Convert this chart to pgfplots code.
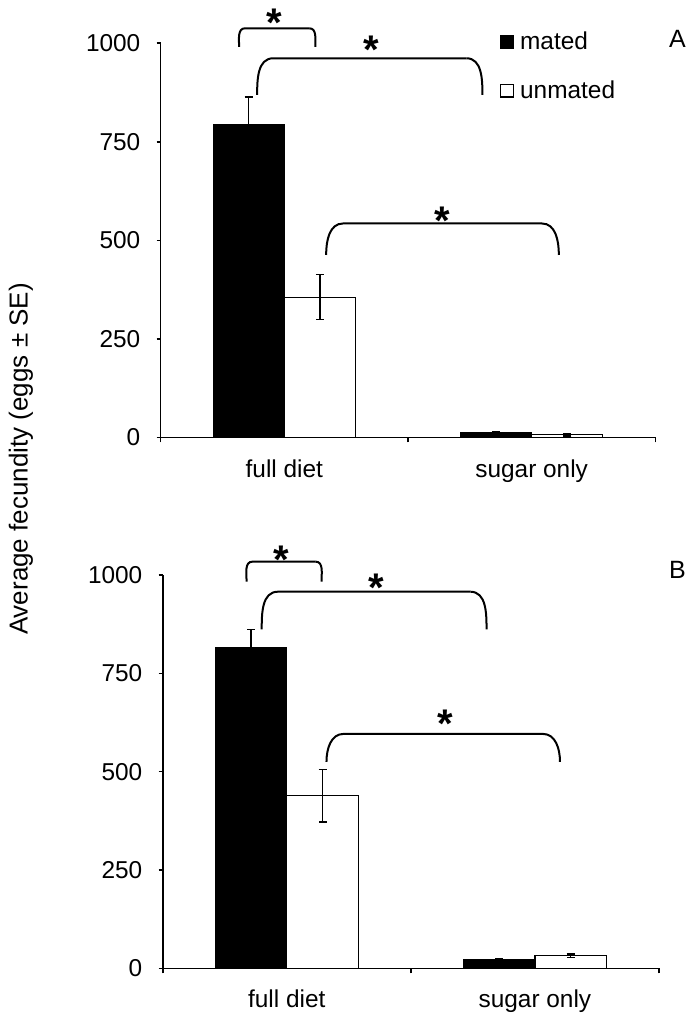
\documentclass[border=0pt]{standalone}
\usepackage{fontspec}
\setmainfont{Liberation Sans}
\usepackage{pgfplots}
\pgfplotsset{compat=1.18}

\newcommand{\brk}[5]{%
  \draw[line width=1pt] (axis cs:#1,#4) to[out=90,in=180] (axis cs:#5,#3) -- (axis cs:#2,#3);}
\newcommand{\brkr}[4]{%
  \draw[line width=1pt] (axis cs:#1,#3) to[out=0,in=90] (axis cs:#2,#4);}
\newcommand{\sigstar}[2]{\node[anchor=north,inner sep=0pt,font=\fontsize{20}{24}\selectfont\bfseries] at (axis cs:#1,#2) {*};}

\pgfplotsset{panel/.style={
  scale only axis,
  xmin=0.5, xmax=2.5, ymin=0, ymax=1000,
  axis x line*=bottom, axis y line*=left,
  axis line style={line width=0.8pt,-},
  xtick={1,2}, xticklabels={full diet, sugar only},
  major x tick style={draw=none},
  minor xtick={0.5,1.5,2.5},
  ytick={0,250,500,750,1000},
  tick align=outside, major tick length=2pt, minor tick length=2.5pt,
  tick style={black, line width=0.8pt},
  ticklabel style={font=\fontsize{12.2}{14}\selectfont},
  /pgf/number format/assume math mode=true,
  /pgf/number format/1000 sep={},
  scaled y ticks=false,
  yticklabel style={inner sep=0pt, anchor=east, xshift=-8pt},
  xticklabel style={inner sep=0pt, anchor=north, yshift=-8.8pt},
  clip=false,
  ybar, bar width=0.288,
  error bars/y dir=both, error bars/y explicit,
  error bars/error bar style={line width=0.75pt, black},
  error bars/error mark options={rotate=90, mark size=2pt, line width=0.75pt, black},
}}

\begin{document}
\begin{tikzpicture}
\path[use as bounding box] (0,0) rectangle (347.5pt,509pt);

\node[rotate=90, font=\fontsize{13}{15}\selectfont] at (10.5pt,279.5pt) {Average fecundity (eggs ± SE)};

% Panel A
\begin{axis}[panel, at={(80.35pt,290.25pt)}, anchor=south west,
  width=247.3pt, height=197.1pt,
  legend cell align=left,
  legend style={at={(axis cs:1.871,1030)}, anchor=north west, draw=none, fill=none,
    inner sep=0pt, row sep=14pt, font=\fontsize{12.2}{14}\selectfont,
    nodes={inner sep=0pt},
    /tikz/every odd column/.append style={column sep=3.2pt}},
  legend image code/.code={\draw[#1, line width=0.6pt] (0pt,-3.1pt) rectangle (6.2pt,3.1pt);}]
\addplot[fill=black, draw=black, line width=0.6pt, bar shift=-0.144]
  coordinates {(1,794) +- (0,70) (2,12) +- (0,3)};
\addlegendentry{mated}
\addplot[fill=white, draw=black, line width=0.6pt, bar shift=0.144]
  coordinates {(1,356) +- (0,57) (2,7) +- (0,3)};
\addlegendentry{unmated}
\brk{0.817}{1.101}{1038}{991}{0.841}
\brkr{1.101}{1.125}{1038}{991}
\sigstar{0.961}{1089}
\brk{0.890}{1.736}{962}{869}{0.955}
\brkr{1.736}{1.801}{962}{869}
\sigstar{1.351}{1018.5}
\brk{1.169}{2.041}{543}{463}{1.238}
\brkr{2.041}{2.110}{543}{463}
\sigstar{1.640}{585.5}
\node[anchor=base west, inner sep=0pt, font=\fontsize{12.5}{14}\selectfont] at (axis cs:2.554,989) {A};
\end{axis}

% Panel B
\begin{axis}[panel, at={(81.35pt,24.85pt)}, anchor=south west,
  width=248.15pt, height=196.65pt]
\addplot[fill=black, draw=black, line width=0.6pt, bar shift=-0.144]
  coordinates {(1,816) +- (0,46) (2,21) +- (0,3)};
\addplot[fill=white, draw=black, line width=0.6pt, bar shift=0.144]
  coordinates {(1,439) +- (0,67) (2,32) +- (0,4)};
\brk{0.838}{1.116}{1034}{983}{0.862}
\brkr{1.116}{1.140}{1034}{983}
\sigstar{0.979}{1076}
\brk{0.899}{1.740}{957.5}{862}{0.964}
\brkr{1.740}{1.805}{957.5}{862}
\sigstar{1.362}{1004}
\brk{1.160}{2.032}{596}{525}{1.229}
\brkr{2.032}{2.101}{596}{525}
\sigstar{1.637}{657}
\node[anchor=base west, inner sep=0pt, font=\fontsize{12.5}{14}\selectfont] at (axis cs:2.539,990) {B};
\end{axis}
\end{tikzpicture}
\end{document}
